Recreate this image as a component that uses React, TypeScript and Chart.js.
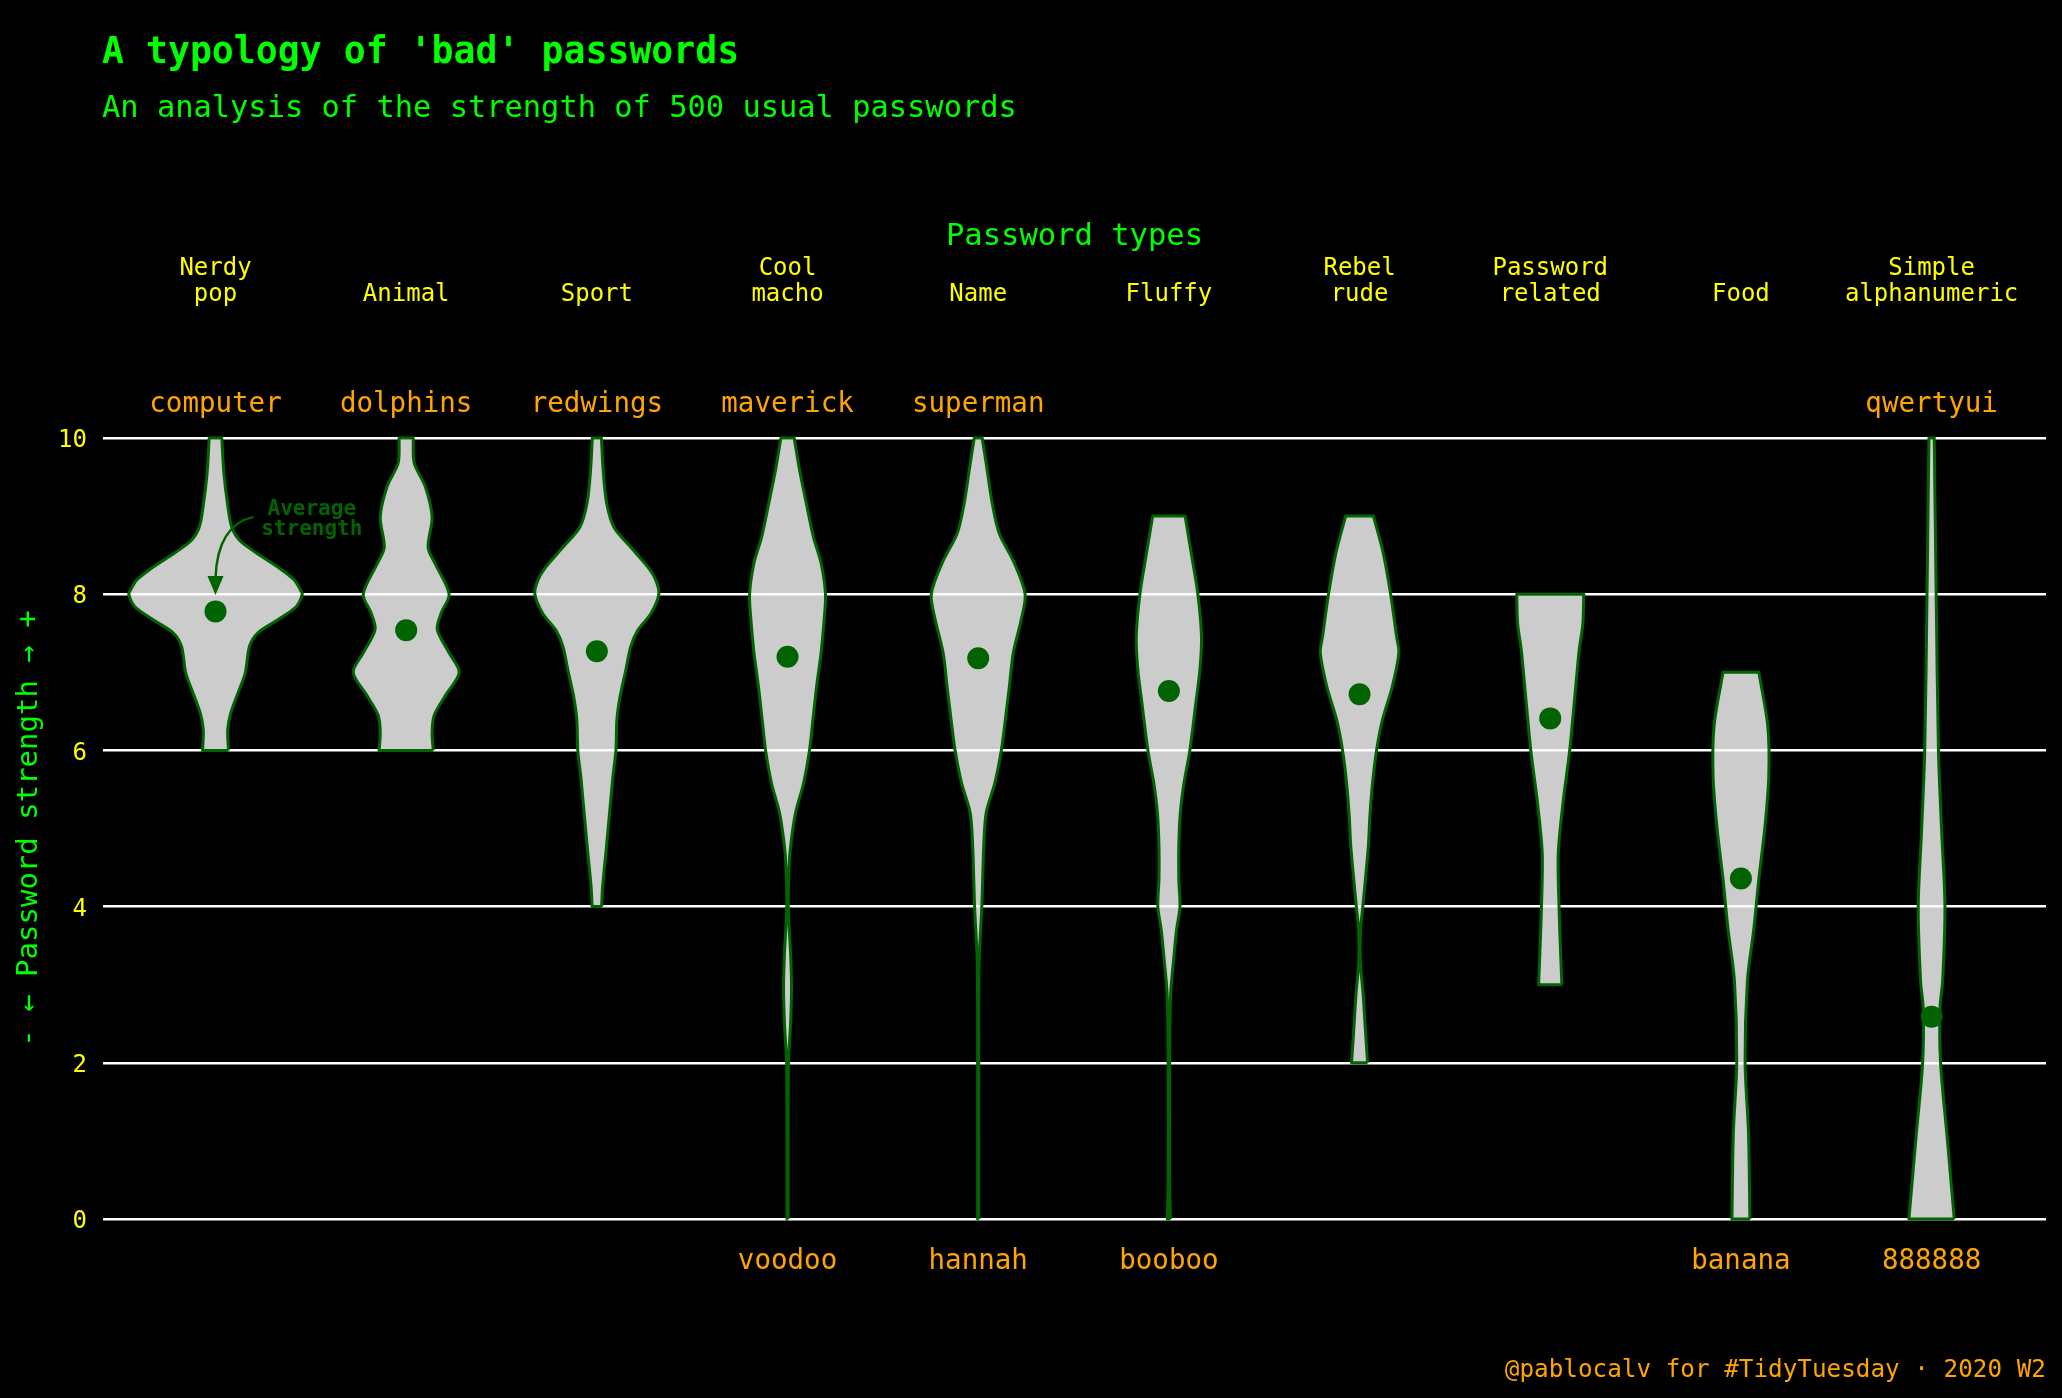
import React, { useEffect, useRef } from "react";
import { Chart, registerables } from "chart.js";

Chart.register(...registerables);

// ---------- data ----------
const categories: string[][] = [
  ["Nerdy", "pop"],
  ["Animal"],
  ["Sport"],
  ["Cool", "macho"],
  ["Name"],
  ["Fluffy"],
  ["Rebel", "rude"],
  ["Password", "related"],
  ["Food"],
  ["Simple", "alphanumeric"],
];

const strongestPasswords = ["computer", "dolphins", "redwings", "maverick", "superman", "", "", "", "", "qwertyui"];
const weakestPasswords = ["", "", "", "voodoo", "hannah", "booboo", "", "", "banana", "888888"];

const averageStrength = [7.78, 7.54, 7.27, 7.2, 7.18, 6.76, 6.72, 6.41, 4.36, 2.59];

const yTicks = [0, 2, 4, 6, 8, 10];

// density profiles: [strength, half width (share of category slot)]
const densityNerdyPop: [number, number][] = [
  [6.0, 0.068], [6.26, 0.064], [6.47, 0.079], [6.73, 0.117], [6.99, 0.156], [7.33, 0.178],
  [7.5, 0.22], [7.67, 0.325], [7.84, 0.423], [8.0, 0.455], [8.05, 0.446], [8.18, 0.414],
  [8.35, 0.325], [8.53, 0.213], [8.69, 0.126], [8.86, 0.085], [9.12, 0.065], [9.55, 0.044], [10.0, 0.033],
];
const densityAnimal: [number, number][] = [
  [6.0, 0.142], [6.23, 0.136], [6.45, 0.147], [6.7, 0.205], [7.0, 0.278], [7.25, 0.225],
  [7.55, 0.163], [7.76, 0.184], [8.0, 0.225], [8.39, 0.152], [8.6, 0.115], [8.99, 0.136],
  [9.38, 0.1], [9.68, 0.042], [10.0, 0.037],
];
const densitySport: [number, number][] = [
  [4.0, 0.025], [4.25, 0.03], [4.68, 0.047], [5.1, 0.063], [5.66, 0.084], [6.0, 0.1],
  [6.39, 0.105], [6.68, 0.121], [7.03, 0.152], [7.33, 0.178], [7.54, 0.215], [7.75, 0.283],
  [8.0, 0.325], [8.18, 0.309], [8.35, 0.267], [8.6, 0.178], [8.86, 0.089], [9.17, 0.051],
  [9.59, 0.033], [10.0, 0.024],
];
const densityCoolMacho: [number, number][] = [
  [0.0, 0.003], [1.0, 0.003], [2.0, 0.005], [2.5, 0.016], [2.97, 0.021], [3.4, 0.016],
  [4.0, 0.004], [4.5, 0.008], [4.77, 0.016], [5.2, 0.042], [5.58, 0.084], [6.0, 0.115],
  [6.39, 0.133], [6.81, 0.152], [7.25, 0.176], [7.67, 0.192], [8.0, 0.199], [8.4, 0.176],
  [8.73, 0.136], [9.17, 0.098], [9.59, 0.063], [10.0, 0.035],
];
const densityName: [number, number][] = [
  [0.0, 0.003], [2.0, 0.003], [3.29, 0.005], [4.0, 0.019], [4.77, 0.029], [5.2, 0.042],
  [5.58, 0.087], [6.0, 0.121], [6.39, 0.142], [6.81, 0.163], [7.25, 0.184], [7.67, 0.225],
  [8.0, 0.246], [8.4, 0.189], [8.78, 0.11], [9.17, 0.073], [9.59, 0.047], [10.0, 0.021],
];
const densityFluffy: [number, number][] = [
  [0.0, 0.008], [0.5, 0.004], [2.0, 0.004], [2.87, 0.009], [3.3, 0.024], [3.7, 0.04],
  [4.0, 0.058], [4.35, 0.052], [4.77, 0.052], [5.2, 0.06], [5.58, 0.079], [6.0, 0.11],
  [6.6, 0.141], [7.04, 0.163], [7.46, 0.171], [8.0, 0.152], [8.53, 0.117], [9.0, 0.085],
];
const densityRebelRude: [number, number][] = [
  [2.0, 0.042], [2.44, 0.03], [2.87, 0.019], [3.3, 0.004], [3.7, 0.005], [4.0, 0.017],
  [4.77, 0.046], [5.15, 0.054], [5.58, 0.068], [6.0, 0.089], [6.39, 0.12], [6.81, 0.171],
  [7.25, 0.206], [7.46, 0.194], [8.0, 0.163], [8.53, 0.124], [9.0, 0.073],
];
const densityPasswordRelated: [number, number][] = [
  [3.0, 0.061], [3.37, 0.055], [4.0, 0.046], [4.68, 0.042], [5.33, 0.067], [6.0, 0.102],
  [6.64, 0.127], [7.29, 0.152], [7.62, 0.171], [8.0, 0.176],
];
const densityFood: [number, number][] = [
  [0.0, 0.047], [1.09, 0.04], [2.0, 0.022], [3.05, 0.034], [3.7, 0.067], [4.35, 0.094],
  [5.0, 0.125], [5.66, 0.146], [6.31, 0.141], [7.0, 0.094],
];
const densitySimpleAlphanumeric: [number, number][] = [
  [0.0, 0.119], [1.09, 0.08], [2.0, 0.047], [2.7, 0.044], [3.05, 0.058], [4.0, 0.07],
  [5.0, 0.052], [6.0, 0.036], [8.0, 0.024], [10.0, 0.014],
];

const densityProfiles = [
  densityNerdyPop, densityAnimal, densitySport, densityCoolMacho, densityName,
  densityFluffy, densityRebelRude, densityPasswordRelated, densityFood, densitySimpleAlphanumeric,
];

const TITLE = "A typology of 'bad' passwords";
const SUBTITLE = "An analysis of the strength of 500 usual passwords";
const X_TITLE = "Password types";
const Y_TITLE = "- \u2190 Password strength \u2192 +";
const CAPTION = "@pablocalv for #TidyTuesday \u00b7 2020 W2";
const ANNOTATION = ["Average", "strength"];

// ---------- style ----------
const FONT = "'DejaVu Sans Mono', 'Liberation Mono', monospace";
const GREEN = "#00FF00";
const DARK_GREEN = "#006400";
const YELLOW = "#FFFF00";
const ORANGE = "#FFA500";

const textPlugin = {
  id: "textPlugin",
  afterDraw(chart: any) {
    const { ctx, chartArea, scales } = chart;
    const xs = scales.x;
    const ys = scales.y;
    ctx.save();
    ctx.textBaseline = "middle";

    // title + subtitle
    ctx.textAlign = "left";
    ctx.fillStyle = GREEN;
    ctx.font = `bold 36.5px ${FONT}`;
    ctx.fillText(TITLE, 102, 54);
    ctx.font = `30.4px ${FONT}`;
    ctx.fillText(SUBTITLE, 102, 109);

    // x title
    ctx.textAlign = "center";
    ctx.font = `30.5px ${FONT}`;
    ctx.fillText(X_TITLE, (chartArea.left + chartArea.right) / 2, 237);

    // category labels
    ctx.fillStyle = YELLOW;
    ctx.font = `24px ${FONT}`;
    categories.forEach((lines, i) => {
      const x = xs.getPixelForValue(i);
      lines.forEach((line, j) => {
        const y = 295 - (lines.length - 1 - j) * 26;
        ctx.fillText(line, x, y);
      });
    });

    // strongest / weakest passwords
    ctx.fillStyle = ORANGE;
    ctx.font = `27.5px ${FONT}`;
    strongestPasswords.forEach((p, i) => {
      if (p) ctx.fillText(p, xs.getPixelForValue(i), chartArea.top - 33);
    });
    weakestPasswords.forEach((p, i) => {
      if (p) ctx.fillText(p, xs.getPixelForValue(i), chartArea.bottom + 43);
    });

    // caption
    ctx.textAlign = "right";
    ctx.font = `24.3px ${FONT}`;
    ctx.fillText(CAPTION, chartArea.right, 1371);

    // annotation
    ctx.fillStyle = DARK_GREEN;
    ctx.strokeStyle = DARK_GREEN;
    ctx.textAlign = "center";
    ctx.font = `bold 21px ${FONT}`;
    const tx = xs.getPixelForValue(0.505);
    ctx.fillText(ANNOTATION[0], tx, ys.getPixelForValue(9.09));
    ctx.fillText(ANNOTATION[1], tx, ys.getPixelForValue(8.83));

    const sx = xs.getPixelForValue(0.2);
    const sy = ys.getPixelForValue(8.99);
    const ex = xs.getPixelForValue(0);
    const tipY = ys.getPixelForValue(7.99);
    const baseY = tipY - 19;
    ctx.lineWidth = 2.5;
    ctx.beginPath();
    ctx.moveTo(sx, sy);
    ctx.quadraticCurveTo(ex + 2, sy + 8, ex, baseY + 2);
    ctx.stroke();
    ctx.beginPath();
    ctx.moveTo(ex - 8, baseY);
    ctx.lineTo(ex + 8, baseY);
    ctx.lineTo(ex, tipY);
    ctx.closePath();
    ctx.fill();

    ctx.restore();
  },
};

export default function App() {
  const canvasRef = useRef<HTMLCanvasElement | null>(null);

  useEffect(() => {
    document.body.style.margin = "0";
    document.body.style.background = "#000000";
    const canvas = canvasRef.current;
    if (!canvas) return;

    const violinSets = densityProfiles.map((profile, i) => {
      const right = profile.map(([v, w]) => ({ x: i + w, y: v }));
      const left = [...profile].reverse().map(([v, w]) => ({ x: i - w, y: v }));
      // repeat the end points of each side so the flat ends keep sharp corners
      const pts = [
        right[0],
        ...right,
        right[right.length - 1],
        left[0],
        ...left,
        left[left.length - 1],
        { ...right[0] },
        { ...right[0] },
      ];
      return {
        type: "line" as const,
        data: pts,
        showLine: true,
        fill: "shape",
        backgroundColor: "rgba(255,255,255,0.8)",
        borderColor: DARK_GREEN,
        borderWidth: 3,
        borderJoinStyle: "round" as const,
        pointRadius: 0,
        tension: 0.3,
        clip: false,
      };
    });

    const meanSet = {
      type: "scatter" as const,
      data: averageStrength.map((m, i) => ({ x: i, y: m })),
      backgroundColor: DARK_GREEN,
      borderWidth: 0,
      pointRadius: 11,
      clip: false,
    };

    const chart = new Chart(canvas, {
      type: "scatter",
      data: { datasets: [meanSet as any, ...(violinSets as any[])] },
      options: {
        animation: false,
        responsive: false,
        devicePixelRatio: 1,
        events: [],
        layout: { padding: { top: 438, bottom: 179, left: 0, right: 16 } },
        plugins: { legend: { display: false }, tooltip: { enabled: false }, title: { display: false } },
        scales: {
          x: { type: "linear", min: -0.59, max: 9.6, display: false },
          y: {
            type: "linear",
            min: yTicks[0],
            max: yTicks[yTicks.length - 1],
            afterBuildTicks: (s: any) => {
              s.ticks = yTicks.map((v) => ({ value: v }));
            },
            afterFit: (s: any) => {
              s.width = 103;
            },
            ticks: { color: YELLOW, font: { family: FONT, size: 24 }, padding: 16, labelOffset: 3 },
            grid: { color: "#FFFFFF", lineWidth: 2.6, drawTicks: false },
            border: { display: false },
            title: {
              display: true,
              text: Y_TITLE,
              color: GREEN,
              font: { family: FONT, size: 29 },
              padding: { top: 12, bottom: 0 },
            },
          },
        },
      },
      plugins: [textPlugin],
    });

    return () => chart.destroy();
  }, []);

  return (
    <div style={{ position: "absolute", left: 0, top: 0, width: 2062, height: 1398, background: "#000000" }}>
      <canvas ref={canvasRef} width={2062} height={1398} style={{ display: "block" }} />
    </div>
  );
}
